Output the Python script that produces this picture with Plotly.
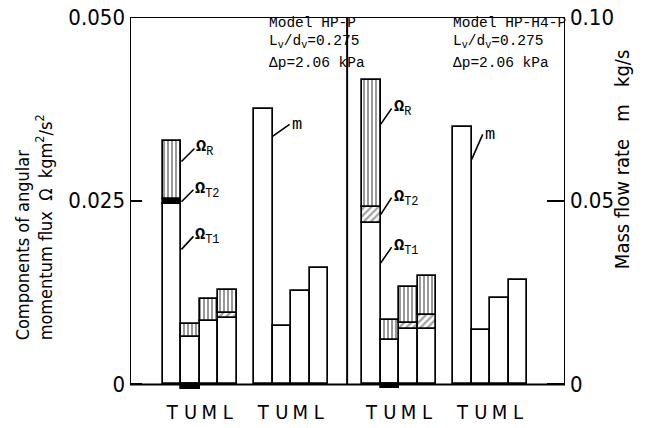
import plotly.graph_objects as go

components = ["T", "U", "M", "L"]

# Components of angular momentum flux (kg m^2/s^2), model HP-P
hp_p_t1 = [0.0245, 0.0064, 0.0086, 0.0090]
hp_p_t2 = [0.0007, -0.0006, 0.0, 0.0007]
hp_p_r = [0.0079, 0.0018, 0.0030, 0.0031]

# Components of angular momentum flux (kg m^2/s^2), model HP-H4-P
hp_h4_t1 = [0.0220, 0.0061, 0.0076, 0.0076]
hp_h4_t2 = [0.0022, -0.0005, 0.0008, 0.0019]
hp_h4_r = [0.0172, 0.0026, 0.0049, 0.0053]

# Mass flow rate (kg/s)
hp_p_m = [0.0750, 0.0160, 0.0253, 0.0318]
hp_h4_m = [0.0700, 0.0149, 0.0234, 0.0285]

# T2 pieces drawn solid black (very thin or negative) instead of hatched
t2_solid = [True, True, False, False, False, True, False, False]

# ---- layout of the bar groups along a plain numeric x axis (1 unit = 1 bar) ----
X_MAX = 23.5
group_start = {"p_omega": 1.78, "p_m": 6.70, "h4_omega": 12.54, "h4_m": 17.46}
divider_x = 11.73


def centers(key):
    return [group_start[key] + 0.5 + i for i in range(len(components))]


omega_x = centers("p_omega") + centers("h4_omega")
m_x = centers("p_m") + centers("h4_m")

t1 = hp_p_t1 + hp_h4_t1
t2 = hp_p_t2 + hp_h4_t2
r = hp_p_r + hp_h4_r
m = hp_p_m + hp_h4_m

t2_shape = ["" if s else "/" for s in t2_solid]
t2_color = ["black" if s else "white" for s in t2_solid]

MONO = "Liberation Mono, DejaVu Sans Mono, monospace"
NARROW = "Liberation Sans Narrow, DejaVu Sans Condensed, Roboto Condensed, Liberation Sans, sans-serif"

outline = dict(color="black", width=1.7)

fig = go.Figure()
fig.add_trace(go.Bar(x=omega_x, y=t1, width=1, name="Ω_T1",
                     marker=dict(color="white", line=outline)))
fig.add_trace(go.Bar(x=omega_x, y=t2, width=1, name="Ω_T2",
                     marker=dict(color=t2_color, line=outline,
                                 pattern=dict(shape=t2_shape, fgcolor="black",
                                              bgcolor="white", size=5, solidity=0.45))))
fig.add_trace(go.Bar(x=omega_x, y=r, width=1, name="Ω_R",
                     marker=dict(color="white", line=outline,
                                 pattern=dict(shape="|", fgcolor="black",
                                              bgcolor="white", size=4, solidity=0.4))))
fig.add_trace(go.Bar(x=m_x, y=m, width=1, name="m", yaxis="y2",
                     marker=dict(color="white", line=outline)))

# ---- geometry ----
W, H = 648, 428
TOP = 17
Y_MAX = 0.05
Y_MIN = -0.0009
span_px = 367.0
plot_h = span_px * (Y_MAX - Y_MIN) / Y_MAX
bottom = H - TOP - plot_h

fig.update_layout(
    width=W, height=H,
    margin=dict(l=130, r=83, t=TOP, b=bottom, pad=0, autoexpand=False),
    paper_bgcolor="white", plot_bgcolor="white",
    barmode="relative", bargap=0, showlegend=False,
    xaxis=dict(range=[0, X_MAX], showgrid=False, zeroline=False, showline=False,
               automargin=False,
               tickvals=omega_x + m_x, ticktext=components * 4, ticks="",
               ticklabelstandoff=7,
               tickfont=dict(family=NARROW, size=20, color="black")),
    yaxis=dict(range=[Y_MIN, Y_MAX], showgrid=False, zeroline=False, showline=False,
               automargin=False,
               tickvals=[0, 0.025, 0.05], ticktext=["0", "0.025", "0.050"],
               ticks="inside", ticklen=12, tickwidth=2, tickcolor="black",
               ticklabelstandoff=4,
               tickfont=dict(family=NARROW, size=22, color="black")),
    yaxis2=dict(range=[2 * Y_MIN, 2 * Y_MAX], overlaying="y", side="right",
                showgrid=False, zeroline=False, showline=False, automargin=False,
                tickvals=[0, 0.05, 0.10], ticktext=["0", "0.05", "0.10"],
                ticks="inside", ticklen=18, tickwidth=2, tickcolor="black",
                ticklabelstandoff=4,
                tickfont=dict(family=NARROW, size=22, color="black")),
)

# frame and panel divider
fig.add_shape(type="rect", xref="x", yref="y", x0=0, x1=X_MAX, y0=0, y1=Y_MAX,
              line=dict(color="black", width=2), layer="above")
fig.add_shape(type="line", xref="x", yref="y", x0=divider_x, x1=divider_x, y0=0, y1=Y_MAX,
              line=dict(color="black", width=2), layer="above")


def py(px_y):
    """paper y for a pixel row of the figure"""
    return (H - bottom - px_y) / plot_h


def pxx(px_x):
    """paper x for a pixel column of the figure"""
    return (px_x - 130) / 435.0


# axis titles
fig.add_annotation(xref="paper", yref="paper", x=pxx(34), y=py(342),
                   xanchor="center", yanchor="bottom", textangle=-90, align="left",
                   showarrow=False,
                   text="Components of angular<br>momentum flux  Ω  kgm<sup>2</sup>/s<sup>2</sup>",
                   font=dict(family=NARROW, size=18, color="black"))
fig.add_annotation(xref="paper", yref="paper", x=pxx(622), y=py(160),
                   xanchor="center", yanchor="middle", textangle=-90, showarrow=False,
                   text="Mass flow rate   m   kg/s",
                   font=dict(family=NARROW, size=20, color="black"))

# panel captions
captions = [
    ("Model HP-P", "L<sub>v</sub>/d<sub>v</sub>=0.275", "Δp=2.06 kPa", 267),
    ("Model HP-H4-P", "L<sub>v</sub>/d<sub>v</sub>=0.275", "Δp=2.06 kPa", 451),
]
for l1, l2, l3, px in captions:
    for txt, row in ((l1, 23), (l2, 42), (l3, 63)):
        fig.add_annotation(xref="paper", yref="paper", x=pxx(px),
                           y=py(row), xanchor="left", yanchor="middle",
                           showarrow=False, text=txt,
                           font=dict(family=MONO, size=14.5, color="black"))


def leader(x, y, text, dx, dy, yref="y"):
    fig.add_annotation(x=x, y=y, xref="x", yref=yref, ax=dx, ay=dy,
                       axref="pixel", ayref="pixel", text=text,
                       showarrow=True, arrowhead=0, arrowwidth=1.6, arrowcolor="black",
                       xanchor="left", yanchor="middle", standoff=0,
                       font=dict(family=MONO, size=17, color="black"))


# component labels on the T bars
for key, i0, offs in (("p_omega", 0, [(13, -13), (12, -12), (12, -13)]),
                      ("h4_omega", 4, [(11, -16), (11, -17), (11, -16)])):
    xe = group_start[key] + 1
    base = t1[i0]
    band = t2[i0]
    leader(xe, base + band + 0.65 * r[i0], "<b>Ω</b><sub>R</sub>", *offs[0])
    leader(xe, base + 0.5 * band, "<b>Ω</b><sub>T2</sub>", *offs[1])
    leader(xe, 0.75 * base, "<b>Ω</b><sub>T1</sub>", *offs[2])

leader(group_start["p_m"] + 1, 0.9 * m[0], "m", 17, -12, "y2")
leader(group_start["h4_m"] + 1, 0.875 * m[4], "m", 11, -25, "y2")

fig.write_html("out.html")
